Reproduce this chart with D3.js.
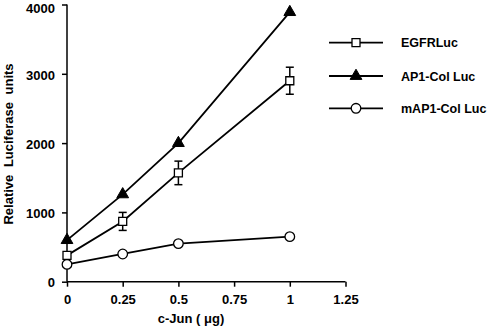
<!DOCTYPE html>
<html>
<head>
<meta charset="utf-8">
<script src="https://cdn.jsdelivr.net/npm/d3@7"></script>
<style>
  body { margin: 0; background: #fff; }
  text { font-family: "Liberation Sans", Arial, sans-serif; font-weight: bold; fill: #000; }
</style>
</head>
<body>
<div id="chart"></div>
<script>
// c-Jun dose response, luciferase reporter assay

const doses = [0, 0.25, 0.5, 1];
const xTicks = [0, 0.25, 0.5, 0.75, 1, 1.25];
const yTicks = [0, 1000, 2000, 3000, 4000];

const egfrValues = [380, 870, 1570, 2900];
const egfrErrors = [0, 130, 170, 195];
const ap1Values = [600, 1260, 2000, 3890];
const map1Values = [250, 400, 550, 650];

const seriesNames = ['EGFRLuc', 'AP1-Col Luc', 'mAP1-Col Luc'];

const W = 497, H = 330;
const x0 = 67, x1 = 345.5, yBottom = 281.7, yTop = 4.5;

const svg = d3.select('#chart')
    .append('svg')
    .attr('width', W)
    .attr('height', H);

const xScale = d3.scaleLinear().domain([0, 1.25]).range([x0, x1]);
const yScale = d3.scaleLinear().domain([0, 4000]).range([yBottom, yTop]);

// axes
const xAxis = d3.axisBottom(xScale)
    .tickValues(xTicks)
    .tickSize(5)
    .tickFormat(d => d3.format('')(d));

const yAxis = d3.axisLeft(yScale)
    .tickValues(yTicks)
    .tickSize(5)
    .tickFormat(d => d);

const gx = svg.append('g')
    .attr('transform', `translate(0, ${yBottom})`)
    .call(xAxis);

const gy = svg.append('g')
    .attr('transform', `translate(${x0}, 0)`)
    .call(yAxis);

[gx, gy].forEach(g => {
    g.select('.domain').attr('stroke', '#000').attr('stroke-width', 1.5);
    g.selectAll('.tick line').attr('stroke', '#000').attr('stroke-width', 1.5);
    g.selectAll('.tick text')
        .attr('font-size', 13)
        .attr('font-family', '"Liberation Sans", Arial, sans-serif')
        .attr('font-weight', 'bold')
        .attr('fill', '#000');
});
gx.select('.domain').attr('d', `M${x0},0H${x1}`);
gy.select('.domain').attr('d', `M0,${yBottom}V${yTop}`);
gx.selectAll('.tick text').attr('dy', '1.1em');
gy.selectAll('.tick text').attr('x', -12).attr('dy', '0.4em');
// keep the top label inside the window
gy.selectAll('.tick text').filter(d => d === 4000).attr('dy', '0.62em');

// axis labels
svg.append('text')
    .attr('x', 191)
    .attr('y', 323)
    .attr('text-anchor', 'middle')
    .attr('font-size', 13)
    .text('c-Jun ( \u03bcg)');

svg.append('text')
    .attr('transform', 'rotate(-90)')
    .attr('x', -144)
    .attr('y', 13)
    .attr('text-anchor', 'middle')
    .attr('font-size', 13)
    .attr('word-spacing', 4)
    .text('Relative Luciferase units');

const line = d3.line()
    .x((d, i) => xScale(doses[i]))
    .y(d => yScale(d));

const lineGroup = svg.append('g');
[egfrValues, ap1Values, map1Values].forEach(vals => {
    lineGroup.append('path')
        .datum(vals)
        .attr('d', line)
        .attr('fill', 'none')
        .attr('stroke', '#000')
        .attr('stroke-width', 1.8);
});

// error bars for EGFRLuc
const errG = svg.append('g').attr('stroke', '#000').attr('stroke-width', 1.5);
egfrValues.forEach((v, i) => {
    const e = egfrErrors[i];
    if (!e) return;
    const cx = xScale(doses[i]);
    errG.append('line')
        .attr('x1', cx).attr('x2', cx)
        .attr('y1', yScale(v - e)).attr('y2', yScale(v + e));
    [v - e, v + e].forEach(y => {
        errG.append('line')
            .attr('x1', cx - 4).attr('x2', cx + 4)
            .attr('y1', yScale(y)).attr('y2', yScale(y));
    });
});

// markers
const square = d3.symbol().type(d3.symbolSquare).size(64);
const triangle = d3.symbol().type(d3.symbolTriangle).size(60);

function drawMarker(g, kind, cx, cy) {
    if (kind === 0) {
        g.append('path').attr('d', square)
            .attr('transform', `translate(${cx},${cy})`)
            .attr('fill', '#fff').attr('stroke', '#000').attr('stroke-width', 1.3);
    } else if (kind === 1) {
        g.append('path').attr('d', triangle)
            .attr('transform', `translate(${cx},${cy})`)
            .attr('fill', '#000').attr('stroke', '#000').attr('stroke-width', 1);
    } else {
        g.append('circle').attr('cx', cx).attr('cy', cy).attr('r', 4.8)
            .attr('fill', '#fff').attr('stroke', '#000').attr('stroke-width', 1.3);
    }
}

const markG = svg.append('g');
[map1Values, egfrValues, ap1Values].forEach((vals, s) => {
    const kind = [2, 0, 1][s];
    vals.forEach((v, i) => drawMarker(markG, kind, xScale(doses[i]), yScale(v)));
});

// legend
const legendY = [42.7, 76, 108.3];
const legend = svg.append('g');
seriesNames.forEach((name, i) => {
    const ly = legendY[i];
    legend.append('line')
        .attr('x1', 329).attr('x2', 383)
        .attr('y1', ly).attr('y2', ly)
        .attr('stroke', '#000').attr('stroke-width', 1.8);
    drawMarker(legend, i, 356, ly);
    legend.append('text')
        .attr('x', 401)
        .attr('y', ly + 4.5)
        .attr('font-size', 12.5)
        .text(name);
});
</script>
</body>
</html>
